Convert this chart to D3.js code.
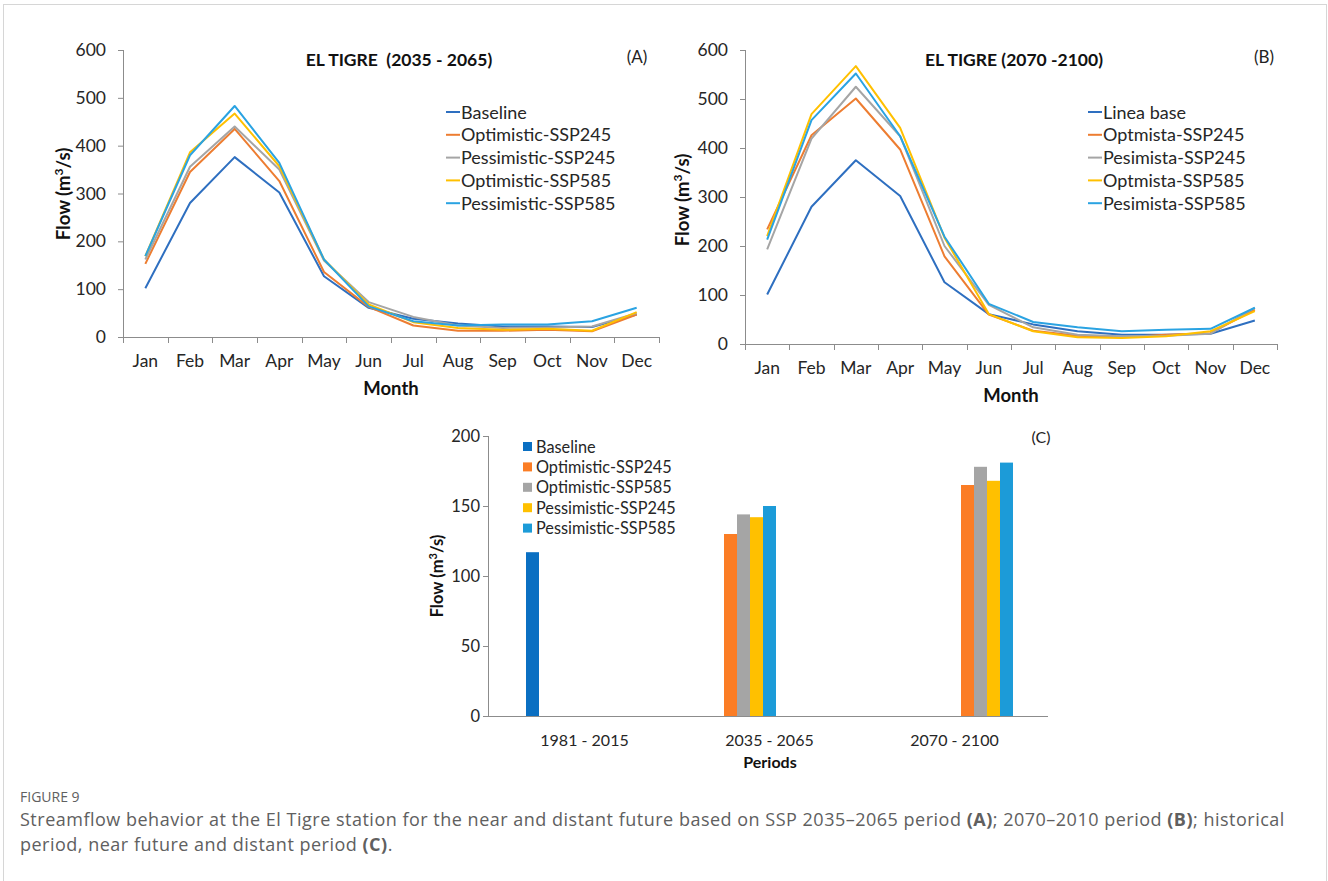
<!DOCTYPE html>
<html>
<head>
<meta charset="utf-8">
<script src="https://cdn.jsdelivr.net/npm/d3@7"></script>
<style>
  body { margin: 0; background: #fff; }
  svg { display: block; }
</style>
</head>
<body>
<svg id="canvas" width="1328" height="881"></svg>
<script>
// data
const months = ["Jan","Feb","Mar","Apr","May","Jun","Jul","Aug","Sep","Oct","Nov","Dec"];

const namesA = ["Baseline","Optimistic-SSP245","Pessimistic-SSP245","Optimistic-SSP585","Pessimistic-SSP585"];
const baselineA = [102,280,376,302,127,61,38,28,22,22,21,47];
const opt245A   = [153,345,435,326,136,63,24,13,13,15,12,47];
const pes245A   = [162,356,440,350,160,73,42,24,19,20,22,50];
const opt585A   = [169,386,467,357,162,68,31,19,15,17,13,52];
const pes585A   = [169,380,483,364,162,64,33,24,26,26,33,61];

const namesB = ["Linea base","Optmista-SSP245","Pesimista-SSP245","Optmista-SSP585","Pesimista-SSP585"];
const baselineB = [101,280,375,302,126,61,40,26,19,19,21,48];
const opt245B   = [234,426,501,397,179,60,27,17,14,19,22,70];
const pes245B   = [193,419,525,424,200,80,34,19,16,17,21,74];
const opt585B   = [220,469,567,441,217,61,26,14,12,16,26,67];
const pes585B   = [213,457,552,424,219,82,45,34,26,29,31,74];

// panel C: the source chart has 9 series (baseline + 4 near + 4 far), legend shows 5
const periods = ["1981 - 2015","2035 - 2065","2070 - 2100"];
const namesC = ["Baseline","Optimistic-SSP245","Optimistic-SSP585","Pessimistic-SSP245","Pessimistic-SSP585"];
const baselineC = 117;                  // 1981 - 2015
const nearC = [130, 144, 142, 150];     // 2035 - 2065 : opt245, opt585, pes245, pes585
const farC  = [165, 178, 168, 181];     // 2070 - 2100

const flowTicks = [0,100,200,300,400,500,600];
const barTicks = [0,50,100,150,200];

const lineColors = ["#2e6fc0","#ed7d31","#a5a5a5","#ffc000","#2aa3e2"];
const barColors = ["#0a6fc2","#fb7d25","#a5a5a5","#ffc000","#1c9bd8"];

const font = "Lato, 'Open Sans', sans-serif";
const axisGrey = "#8c8c8c";
const textCol = "#262626";

const svg = d3.select("#canvas");

// outer frame
svg.append("rect")
    .attr("x", 3.5).attr("y", 4.5)
    .attr("width", 1323).attr("height", 900)
    .attr("fill", "none")
    .attr("stroke", "#d6d6d6");

function linePanel(opt) {
    const g = svg.append("g");

    const x = d3.scaleBand().domain(months).range([opt.left, opt.right]);
    const y = d3.scaleLinear().domain([0, 600]).range([opt.bottom, opt.top]);
    const edge = d3.scaleLinear().domain([0, 12]).range([opt.left, opt.right]);

    // y axis
    const ya = g.append("g")
        .attr("transform", `translate(${opt.left},0)`)
        .call(d3.axisLeft(y).tickValues(flowTicks).tickSize(5).tickPadding(12));
    ya.select(".domain").attr("stroke", axisGrey).attr("d", `M0.5,${opt.bottom}V${opt.top}`);
    ya.selectAll(".tick line").attr("stroke", axisGrey);
    ya.selectAll("text").attr("font-family", font).attr("font-size", 17.5).attr("fill", textCol);

    // x axis with ticks at category edges
    const xa = g.append("g")
        .attr("transform", `translate(0,${opt.bottom})`)
        .call(d3.axisBottom(x).tickSize(0).tickPadding(opt.labPad));
    xa.select(".domain").attr("stroke", axisGrey).attr("d", `M${opt.left},0.5H${opt.right}`);
    xa.selectAll("text").attr("font-family", font).attr("font-size", 17.5).attr("fill", textCol);
    g.append("g").selectAll("line")
        .data(d3.range(13))
        .enter().append("line")
        .attr("x1", d => Math.round(edge(d)) + 0.5)
        .attr("x2", d => Math.round(edge(d)) + 0.5)
        .attr("y1", opt.bottom)
        .attr("y2", opt.bottom + 6)
        .attr("stroke", axisGrey);

    const line = d3.line()
        .x((d, i) => x(months[i]) + x.bandwidth() / 2)
        .y(d => y(d));

    g.selectAll("path.series")
        .data(opt.series)
        .enter().append("path")
        .attr("class", "series")
        .attr("d", d => line(d))
        .attr("fill", "none")
        .attr("stroke", (d, i) => lineColors[i])
        .attr("stroke-width", 2)
        .attr("stroke-linejoin", "round");

    // titles
    g.append("text")
        .attr("x", opt.titleX).attr("y", opt.top + 16)
        .attr("text-anchor", "middle")
        .attr("font-family", font).attr("font-weight", "bold").attr("font-size", 17.5)
        .attr("fill", "#111")
        .attr("xml:space", "preserve")
        .text(opt.title);
    g.append("text")
        .attr("x", opt.tagX).attr("y", opt.top + 13)
        .attr("text-anchor", "middle")
        .attr("font-family", font).attr("font-size", 17)
        .attr("fill", "#222")
        .text(opt.tag);

    g.append("text")
        .attr("x", (opt.left + opt.right) / 2).attr("y", opt.bottom + opt.monthY)
        .attr("text-anchor", "middle")
        .attr("font-family", font).attr("font-weight", "bold").attr("font-size", 18.5)
        .attr("fill", "#111")
        .text("Month");

    const yt = g.append("text")
        .attr("transform", `translate(${opt.yTitleX},${opt.yTitleY}) rotate(-90)`)
        .attr("text-anchor", "middle")
        .attr("font-family", font).attr("font-weight", "bold").attr("font-size", 18.5)
        .attr("fill", "#111");
    yt.append("tspan").text("Flow (m");
    yt.append("tspan").attr("font-size", 12).attr("dy", -7).text("3");
    yt.append("tspan").attr("dy", 7).text("/s)");

    // legend
    const lg = g.append("g").attr("transform", `translate(${opt.legX},${opt.legY})`);
    opt.names.forEach((n, i) => {
        const row = lg.append("g").attr("transform", `translate(0,${i * 22.8})`);
        row.append("line")
            .attr("x1", 0).attr("x2", 14).attr("y1", 0).attr("y2", 0)
            .attr("stroke", lineColors[i]).attr("stroke-width", 2);
        row.append("text")
            .attr("x", 15).attr("y", 6.5)
            .attr("font-family", font).attr("font-size", 18)
            .attr("fill", textCol)
            .text(n);
    });
}

linePanel({
    left: 123, right: 659, top: 50, bottom: 337,
    series: [baselineA, opt245A, pes245A, opt585A, pes585A],
    names: namesA,
    title: "EL TIGRE  (2035 - 2065)", titleX: 399, tag: "(A)", tagX: 637,
    legX: 446, legY: 112, yTitleX: 70, yTitleY: 194, labPad: 18, monthY: 58
});

linePanel({
    left: 745, right: 1277, top: 50, bottom: 344,
    series: [baselineB, opt245B, pes245B, opt585B, pes585B],
    names: namesB,
    title: "EL TIGRE (2070 -2100)", titleX: 1014, tag: "(B)", tagX: 1264,
    legX: 1088, legY: 112, yTitleX: 689, yTitleY: 200, labPad: 18, monthY: 58
});

// panel C: bars
(function () {
    const left = 488, right = 1048, top = 436, bottom = 716;
    const g = svg.append("g");

    const x0 = d3.scaleBand().domain(periods).range([492, 1047]);
    const x1 = d3.scaleBand().domain(d3.range(9)).range([-58.5, 58.5]);
    const y = d3.scaleLinear().domain([0, 200]).range([bottom, top]);

    const ya = g.append("g")
        .attr("transform", `translate(${left},0)`)
        .call(d3.axisLeft(y).tickValues(barTicks).tickSize(5).tickPadding(3));
    ya.select(".domain").attr("stroke", axisGrey).attr("d", `M0.5,${bottom}V${top}`);
    ya.selectAll(".tick line").attr("stroke", axisGrey);
    ya.selectAll("text").attr("font-family", font).attr("font-size", 16.5).attr("fill", textCol);

    const xa = g.append("g")
        .attr("transform", `translate(0,${bottom})`)
        .call(d3.axisBottom(x0).tickSize(0).tickPadding(19));
    xa.select(".domain").attr("stroke", axisGrey).attr("d", `M${left},0.5H${right}`);
    xa.selectAll("text").attr("font-family", font).attr("font-size", 16).attr("fill", textCol);

    // slot 0 = baseline, 1-4 = near future, 5-8 = far future
    const bars = [{ p: periods[0], slot: 0, v: baselineC, c: barColors[0] }];
    nearC.forEach((v, i) => bars.push({ p: periods[1], slot: 1 + i, v: v, c: barColors[1 + i] }));
    farC.forEach((v, i) => bars.push({ p: periods[2], slot: 5 + i, v: v, c: barColors[1 + i] }));

    g.selectAll("rect.bar")
        .data(bars)
        .enter().append("rect")
        .attr("class", "bar")
        .attr("x", d => x0(d.p) + x0.bandwidth() / 2 + x1(d.slot))
        .attr("width", x1.bandwidth())
        .attr("y", d => y(d.v))
        .attr("height", d => y(0) - y(d.v))
        .attr("fill", d => d.c);

    g.append("text")
        .attr("x", 770).attr("y", bottom + 52)
        .attr("text-anchor", "middle")
        .attr("font-family", font).attr("font-weight", "bold").attr("font-size", 16)
        .attr("fill", "#111")
        .text("Periods");

    g.append("text")
        .attr("x", 1041).attr("y", 443)
        .attr("text-anchor", "middle")
        .attr("font-family", font).attr("font-size", 16)
        .attr("fill", "#222")
        .text("(C)");

    const yt = g.append("text")
        .attr("transform", `translate(443,${(top + bottom) / 2}) rotate(-90)`)
        .attr("text-anchor", "middle")
        .attr("font-family", font).attr("font-weight", "bold").attr("font-size", 16.5)
        .attr("fill", "#111");
    yt.append("tspan").text("Flow (m");
    yt.append("tspan").attr("font-size", 11).attr("dy", -6).text("3");
    yt.append("tspan").attr("dy", 6).text("/s)");

    const lg = g.append("g").attr("transform", `translate(523,442)`);
    namesC.forEach((n, i) => {
        const row = lg.append("g").attr("transform", `translate(0,${i * 20.4})`);
        row.append("rect").attr("x", 0).attr("y", 0).attr("width", 9).attr("height", 9).attr("fill", barColors[i]);
        row.append("text")
            .attr("x", 13).attr("y", 10.5)
            .attr("font-family", font).attr("font-size", 16.3)
            .attr("fill", textCol)
            .text(n);
    });
})();

// caption
const cap = svg.append("g").attr("font-family", "'Open Sans', Lato, sans-serif").attr("fill", "#606060");
cap.append("text").attr("x", 20).attr("y", 802).attr("font-size", 14).text("FIGURE 9");
const l1 = cap.append("text").attr("x", 20).attr("y", 826).attr("font-size", 18).attr("letter-spacing", 0.5);
l1.append("tspan").text("Streamflow behavior at the El Tigre station for the near and distant future based on SSP 2035\u20132065 period ");
l1.append("tspan").attr("font-weight", "bold").text("(A)");
l1.append("tspan").text("; 2070\u20132010 period ");
l1.append("tspan").attr("font-weight", "bold").text("(B)");
l1.append("tspan").text("; historical");
const l2 = cap.append("text").attr("x", 20).attr("y", 851).attr("font-size", 18).attr("letter-spacing", 0.5);
l2.append("tspan").text("period, near future and distant period ");
l2.append("tspan").attr("font-weight", "bold").text("(C)");
l2.append("tspan").text(".");
</script>
</body>
</html>
